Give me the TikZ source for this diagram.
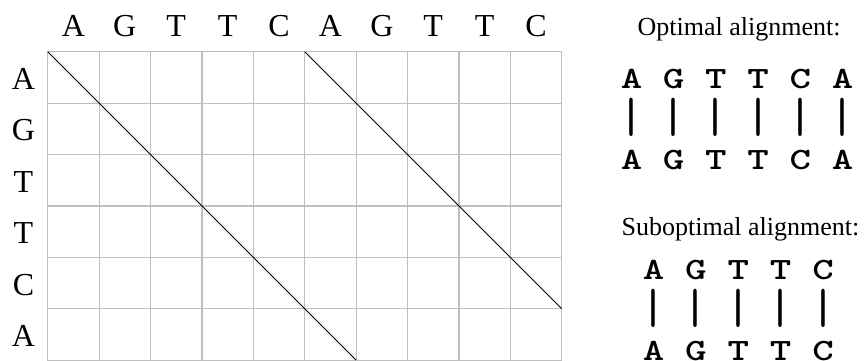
\documentclass[tikz,border=0pt]{standalone}
\usepackage{fontspec}
\setmainfont{Liberation Serif}
\newcommand{\widenuc}[1]{\scalebox{1.32}[1]{#1}}
\newcommand{\tallbar}{\scalebox{1.35}[1.6]{|}}
\begin{document}
\begin{tikzpicture}[x=1pt,y=-1pt,
  gridline/.style={draw=black!25, line width=1.2pt},
  dpath/.style={draw=black, line width=1pt},
  seqlabel/.style={font=\fontsize{32}{32}\selectfont, anchor=base, inner sep=0pt},
  aligntitle/.style={font=\fontsize{26}{26}\selectfont, anchor=base, inner sep=0pt},
  nuc/.style={font=\ttfamily\bfseries\fontsize{31}{31}\selectfont, anchor=base, inner sep=0pt},
  matchbar/.style={font=\ttfamily\bfseries\fontsize{31}{31}\selectfont, anchor=center, inner sep=0pt}]
\useasboundingbox (0,0) rectangle (864,360);
\clip (0,0) rectangle (864,360);
% grid
\foreach \i in {0,...,10}
  \draw[gridline] ({47.7+51.4*\i},51.7) -- ({47.7+51.4*\i},362);
\foreach \j in {0,...,6}
  \draw[gridline] (47.7,{51.7+51.4*\j}) -- (561.7,{51.7+51.4*\j});
% diagonals
\coordinate (d1s) at (47.7,51.7);
\coordinate (d1e) at (356.1,360.1);
\coordinate (d2s) at (304.7,51.7);
\coordinate (d2e) at (561.7,308.7);
\draw[dpath] (d1s) -- (d1e);
\draw[dpath] (d2s) -- (d2e);
% top sequence
\foreach \c [count=\k from 0] in {A,G,T,T,C,A,G,T,T,C}
  \node[seqlabel] (top\k) at ({73.4+51.4*\k},36.7) {\c};
% left sequence
\foreach \c [count=\k from 0] in {A,G,T,T,C,A}
  \node[seqlabel] (left\k) at (23.5,{89.4+51.4*\k}) {\c};
% optimal alignment
\node[aligntitle] (opttitle) at (739,35.7) {Optimal alignment:};
\foreach \c [count=\k from 0] in {A,G,T,T,C,A}{
  \node[nuc] (oa\k) at ({631.5+42.2*\k},88.5) {\widenuc{\c}};
  \node[matchbar] (ob\k) at ({631.5+42.2*\k},117.5) {\tallbar};
  \node[nuc] (oc\k) at ({631.5+42.2*\k},169.5) {\widenuc{\c}};
}
% suboptimal alignment
\node[aligntitle] (subtitle) at (740.5,235) {Suboptimal alignment:};
\foreach \c [count=\k from 0] in {A,G,T,T,C}{
  \node[nuc] (sa\k) at ({653.5+42.4*\k},279.5) {\widenuc{\c}};
  \node[matchbar] (sb\k) at ({653.5+42.4*\k},308) {\tallbar};
  \node[nuc] (sc\k) at ({653.5+42.4*\k},360.5) {\widenuc{\c}};
}
\end{tikzpicture}
\end{document}
